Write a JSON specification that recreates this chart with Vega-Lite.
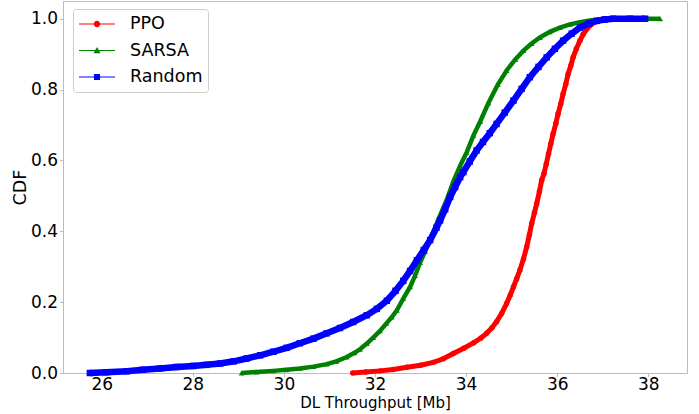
{
  "$schema": "https://vega.github.io/schema/vega-lite/v6.json",
  "width": 624,
  "height": 372,
  "autosize": {"type": "none"},
  "padding": {"left": 63, "top": 1, "right": 12, "bottom": 41},
  "background": "white",
  "config": {
    "font": "DejaVu Sans",
    "view": {"stroke": "#bbbbbb", "strokeWidth": 1},
    "axis": {"grid": false, "domainColor": "#bbbbbb", "tickColor": "#bbbbbb", "labelColor": "#000000", "titleColor": "#000000", "labelFont": "DejaVu Sans", "titleFont": "DejaVu Sans", "titleFontWeight": "normal", "labelFontSize": 17}
  },
  "data": {"values": [
    {"s":"PPO","x":31.51,"y":0},{"s":"PPO","x":31.8,"y":0.003},{"s":"PPO","x":32.11,"y":0.006},{"s":"PPO","x":32.4,"y":0.01},{"s":"PPO","x":32.7,"y":0.016},{"s":"PPO","x":33.0,"y":0.022},{"s":"PPO","x":33.28,"y":0.03},{"s":"PPO","x":33.5,"y":0.04},{"s":"PPO","x":33.72,"y":0.055},{"s":"PPO","x":33.95,"y":0.07},{"s":"PPO","x":34.16,"y":0.085},{"s":"PPO","x":34.32,"y":0.098},{"s":"PPO","x":34.45,"y":0.112},{"s":"PPO","x":34.57,"y":0.128},{"s":"PPO","x":34.67,"y":0.145},{"s":"PPO","x":34.78,"y":0.168},{"s":"PPO","x":34.89,"y":0.196},{"s":"PPO","x":34.97,"y":0.22},{"s":"PPO","x":35.04,"y":0.243},{"s":"PPO","x":35.11,"y":0.266},{"s":"PPO","x":35.18,"y":0.29},{"s":"PPO","x":35.26,"y":0.322},{"s":"PPO","x":35.33,"y":0.356},{"s":"PPO","x":35.39,"y":0.39},{"s":"PPO","x":35.44,"y":0.422},{"s":"PPO","x":35.5,"y":0.452},{"s":"PPO","x":35.55,"y":0.478},{"s":"PPO","x":35.61,"y":0.512},{"s":"PPO","x":35.66,"y":0.544},{"s":"PPO","x":35.71,"y":0.563},{"s":"PPO","x":35.76,"y":0.59},{"s":"PPO","x":35.81,"y":0.619},{"s":"PPO","x":35.86,"y":0.647},{"s":"PPO","x":35.91,"y":0.675},{"s":"PPO","x":35.97,"y":0.704},{"s":"PPO","x":36.02,"y":0.732},{"s":"PPO","x":36.08,"y":0.76},{"s":"PPO","x":36.13,"y":0.788},{"s":"PPO","x":36.19,"y":0.816},{"s":"PPO","x":36.24,"y":0.844},{"s":"PPO","x":36.3,"y":0.868},{"s":"PPO","x":36.35,"y":0.891},{"s":"PPO","x":36.42,"y":0.915},{"s":"PPO","x":36.5,"y":0.938},{"s":"PPO","x":36.57,"y":0.956},{"s":"PPO","x":36.65,"y":0.971},{"s":"PPO","x":36.74,"y":0.983},{"s":"PPO","x":36.83,"y":0.992},{"s":"PPO","x":36.92,"y":0.997},{"s":"PPO","x":37.01,"y":0.999},{"s":"PPO","x":37.1,"y":1.0},
    {"s":"SARSA","x":29.07,"y":0},{"s":"SARSA","x":29.4,"y":0.003},{"s":"SARSA","x":29.77,"y":0.006},{"s":"SARSA","x":30.05,"y":0.009},{"s":"SARSA","x":30.35,"y":0.013},{"s":"SARSA","x":30.65,"y":0.018},{"s":"SARSA","x":30.94,"y":0.025},{"s":"SARSA","x":31.15,"y":0.033},{"s":"SARSA","x":31.38,"y":0.045},{"s":"SARSA","x":31.55,"y":0.057},{"s":"SARSA","x":31.67,"y":0.067},{"s":"SARSA","x":31.82,"y":0.083},{"s":"SARSA","x":31.96,"y":0.1},{"s":"SARSA","x":32.11,"y":0.119},{"s":"SARSA","x":32.25,"y":0.14},{"s":"SARSA","x":32.37,"y":0.158},{"s":"SARSA","x":32.48,"y":0.177},{"s":"SARSA","x":32.62,"y":0.21},{"s":"SARSA","x":32.77,"y":0.243},{"s":"SARSA","x":32.88,"y":0.275},{"s":"SARSA","x":32.99,"y":0.312},{"s":"SARSA","x":33.1,"y":0.343},{"s":"SARSA","x":33.21,"y":0.375},{"s":"SARSA","x":33.38,"y":0.43},{"s":"SARSA","x":33.57,"y":0.487},{"s":"SARSA","x":33.72,"y":0.54},{"s":"SARSA","x":33.87,"y":0.585},{"s":"SARSA","x":34.01,"y":0.622},{"s":"SARSA","x":34.16,"y":0.67},{"s":"SARSA","x":34.31,"y":0.71},{"s":"SARSA","x":34.49,"y":0.762},{"s":"SARSA","x":34.7,"y":0.815},{"s":"SARSA","x":34.89,"y":0.854},{"s":"SARSA","x":35.08,"y":0.885},{"s":"SARSA","x":35.26,"y":0.91},{"s":"SARSA","x":35.44,"y":0.93},{"s":"SARSA","x":35.62,"y":0.947},{"s":"SARSA","x":35.84,"y":0.963},{"s":"SARSA","x":36.06,"y":0.975},{"s":"SARSA","x":36.28,"y":0.984},{"s":"SARSA","x":36.5,"y":0.99},{"s":"SARSA","x":36.72,"y":0.995},{"s":"SARSA","x":36.95,"y":0.998},{"s":"SARSA","x":37.3,"y":1.0},{"s":"SARSA","x":37.7,"y":1.0},{"s":"SARSA","x":38.26,"y":1.0},
    {"s":"Random","x":25.74,"y":0},{"s":"Random","x":26.1,"y":0.002},{"s":"Random","x":26.55,"y":0.005},{"s":"Random","x":26.9,"y":0.009},{"s":"Random","x":27.28,"y":0.013},{"s":"Random","x":27.65,"y":0.017},{"s":"Random","x":28.01,"y":0.02},{"s":"Random","x":28.3,"y":0.023},{"s":"Random","x":28.6,"y":0.027},{"s":"Random","x":28.9,"y":0.033},{"s":"Random","x":29.18,"y":0.041},{"s":"Random","x":29.48,"y":0.05},{"s":"Random","x":29.77,"y":0.06},{"s":"Random","x":30.06,"y":0.071},{"s":"Random","x":30.35,"y":0.084},{"s":"Random","x":30.65,"y":0.097},{"s":"Random","x":30.94,"y":0.112},{"s":"Random","x":31.23,"y":0.127},{"s":"Random","x":31.52,"y":0.144},{"s":"Random","x":31.82,"y":0.163},{"s":"Random","x":32.04,"y":0.181},{"s":"Random","x":32.26,"y":0.204},{"s":"Random","x":32.45,"y":0.232},{"s":"Random","x":32.62,"y":0.26},{"s":"Random","x":32.77,"y":0.288},{"s":"Random","x":32.92,"y":0.318},{"s":"Random","x":33.07,"y":0.347},{"s":"Random","x":33.21,"y":0.375},{"s":"Random","x":33.35,"y":0.41},{"s":"Random","x":33.43,"y":0.431},{"s":"Random","x":33.54,"y":0.462},{"s":"Random","x":33.65,"y":0.497},{"s":"Random","x":33.76,"y":0.525},{"s":"Random","x":33.87,"y":0.553},{"s":"Random","x":33.94,"y":0.567},{"s":"Random","x":34.08,"y":0.597},{"s":"Random","x":34.23,"y":0.628},{"s":"Random","x":34.37,"y":0.652},{"s":"Random","x":34.52,"y":0.677},{"s":"Random","x":34.67,"y":0.703},{"s":"Random","x":34.85,"y":0.735},{"s":"Random","x":35.04,"y":0.769},{"s":"Random","x":35.22,"y":0.802},{"s":"Random","x":35.4,"y":0.835},{"s":"Random","x":35.59,"y":0.864},{"s":"Random","x":35.77,"y":0.891},{"s":"Random","x":35.95,"y":0.915},{"s":"Random","x":36.13,"y":0.938},{"s":"Random","x":36.32,"y":0.958},{"s":"Random","x":36.5,"y":0.975},{"s":"Random","x":36.69,"y":0.986},{"s":"Random","x":36.87,"y":0.994},{"s":"Random","x":37.05,"y":0.998},{"s":"Random","x":37.23,"y":1.0},{"s":"Random","x":37.6,"y":1.0},{"s":"Random","x":37.93,"y":1.0}
  ]},
  "encoding": {
    "x": {"field": "x", "type": "quantitative", "scale": {"domain": [25.15, 38.85], "nice": false, "zero": false},
      "axis": {"values": [26, 28, 30, 32, 34, 36, 38], "title": "DL Throughput [Mb]", "titleFontSize": 15, "tickSize": 3.5, "labelPadding": 0, "titlePadding": 3}},
    "y": {"field": "y", "type": "quantitative", "scale": {"domain": [0, 1.05], "nice": false},
      "axis": {"values": [0, 0.2, 0.4, 0.6, 0.8, 1.0], "format": ".1f", "title": "CDF", "titleFontSize": 17.5, "tickSize": 3.5, "labelPadding": 2, "titlePadding": 1}}
  },
  "layer": [
    {"transform": [{"filter": "datum.s === 'PPO'"}], "mark": {"type": "line", "color": "#ff0000", "strokeWidth": 5}},
    {"transform": [{"filter": "datum.s === 'PPO'"}], "mark": {"type": "point", "shape": "circle", "filled": true, "color": "#ff0000", "size": 30, "opacity": 1}},
    {"transform": [{"filter": "datum.s === 'SARSA'"}], "mark": {"type": "line", "color": "#008000", "strokeWidth": 4.5}},
    {"transform": [{"filter": "datum.s === 'SARSA'"}], "mark": {"type": "point", "shape": "triangle-up", "filled": true, "color": "#008000", "size": 32, "opacity": 1}},
    {"transform": [{"filter": "datum.s === 'Random'"}], "mark": {"type": "line", "color": "#0000ff", "strokeWidth": 6.5}},
    {"transform": [{"filter": "datum.s === 'Random'"}], "mark": {"type": "point", "shape": "square", "filled": true, "color": "#0000ff", "size": 42, "opacity": 1}},
    {
      "transform": [{"filter": "datum.y > 5"}],
      "mark": {"type": "point", "filled": true, "opacity": 1},
      "encoding": {
        "color": {"field": "s", "type": "nominal",
          "scale": {"domain": ["PPO", "SARSA", "Random"], "range": ["#ff0000", "#008000", "#0000ff"]},
          "legend": {"title": null, "orient": "none", "legendX": 10, "legendY": 8, "padding": 5, "symbolSize": 1296, "symbolStrokeWidth": 0, "symbolOpacity": 1, "clipHeight": 20, "rowPadding": 6.5, "labelFontSize": 17.5, "labelFont": "DejaVu Sans", "labelColor": "#000000", "labelOffset": 15, "symbolOffset": 1, "fillColor": "rgba(255,255,255,0.8)", "strokeColor": "#cccccc", "cornerRadius": 3, "labelLimit": 200}},
        "shape": {"field": "s", "type": "nominal",
          "scale": {"domain": ["PPO", "SARSA", "Random"], "range": [
            "M-1,-0.03L1,-0.03L1,0.03L-1,0.03Z M-0.18,0A0.18,0.18,0,1,1,0.18,0A0.18,0.18,0,1,1,-0.18,0Z",
            "M-1,-0.03L1,-0.03L1,0.03L-1,0.03Z M0,-0.2L0.2,0.15L-0.2,0.15Z",
            "M-1,-0.03L1,-0.03L1,0.03L-1,0.03Z M-0.17,-0.17L0.17,-0.17L0.17,0.17L-0.17,0.17Z"
          ]},
          "legend": {"title": null, "orient": "none", "legendX": 10, "legendY": 8, "padding": 5, "symbolSize": 1296, "symbolStrokeWidth": 0, "symbolOpacity": 1, "clipHeight": 20, "rowPadding": 6.5, "labelFontSize": 17.5, "labelFont": "DejaVu Sans", "labelColor": "#000000", "labelOffset": 15, "symbolOffset": 1, "fillColor": "rgba(255,255,255,0.8)", "strokeColor": "#cccccc", "cornerRadius": 3, "labelLimit": 200}}
      }
    }
  ]
}
